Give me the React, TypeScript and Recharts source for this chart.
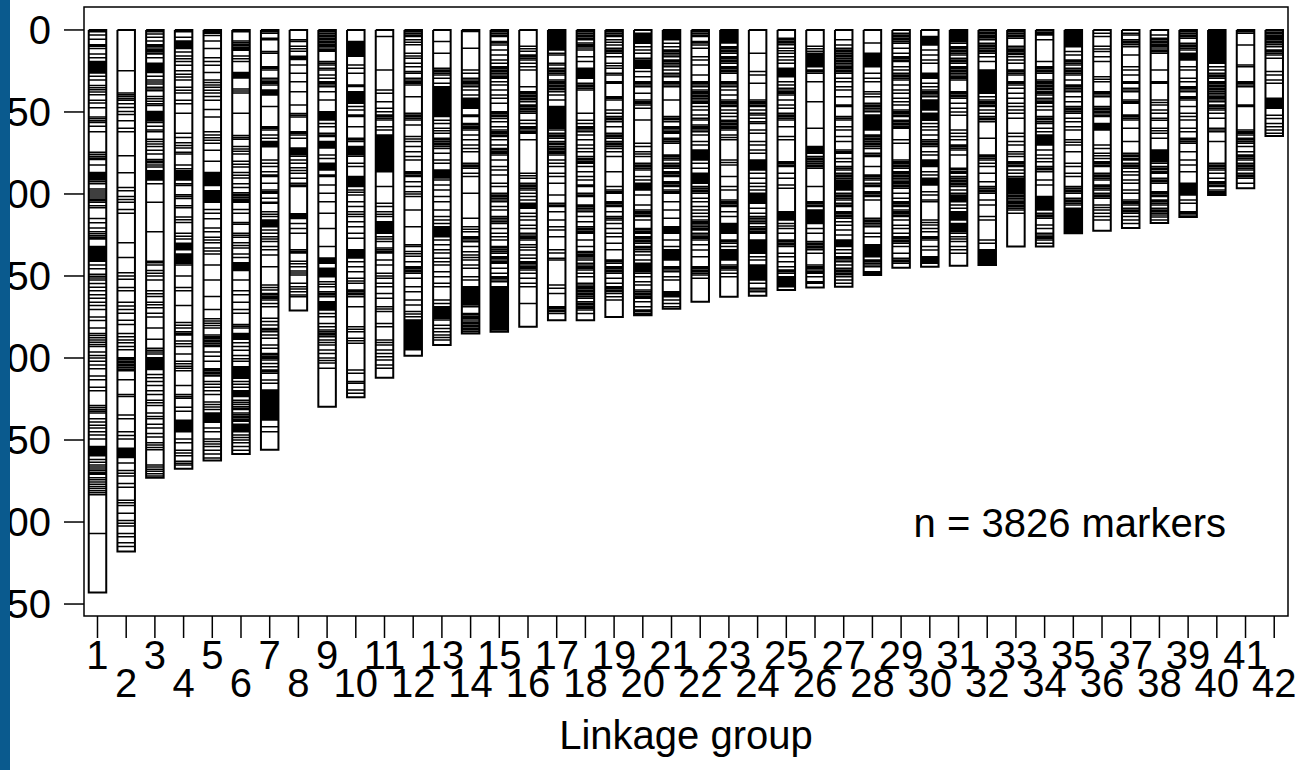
import React from 'react';
import { ComposedChart, Line, XAxis, YAxis, ReferenceArea, Label } from 'recharts';

// ---------- data (positions in cM) ----------
const linkageGroups = [1,2,3,4,5,6,7,8,9,10,11,12,13,14,15,16,17,18,19,20,21,22,23,24,25,26,27,28,29,30,31,32,33,34,35,36,37,38,39,40,41,42];
const groupLabels = ['1','2','3','4','5','6','7','8','9','10','11','12','13','14','15','16','17','18','19','20','21','22','23','24','25','26','27','28','29','30','31','32','33','34','35','36','37','38','39','40','41','42'];
const groupLengths = [343,318,273,267.5,262.5,258.5,256,171,229.7,224,212,198.6,192,185,184,181,177,177,175,174,170,165.7,162.6,162,158.5,157,156.5,149.4,145,144.3,143.7,143.3,132,132,124,122.4,120.7,117.7,114,100.6,96.5,64.6];
const yTicks = [0,50,100,150,200,250,300,350];
const markerCountText = 'n = 3826 markers';
const xAxisTitle = 'Linkage group';

const lg1 = [1.1,3,5.6,9,10,11.3,14.7,17,19.2,19.9,20.6,21.3,22,22.7,23.4,24.1,24.8,25.5,26.2,28.2,30.5,33.9,35.2,36.5,37.8,39.5,42.9,44.5,47.4,53,54.2,55.4,56.4,58.7,62,74.5,75.8,77,78,79,82.4,86.9,87.8,88.7,89.6,90.5,91.5,92.5,93.7,97,98.2,99.4,100.6,101.8,103,104,105,107.2,108.4,115,117.5,120.8,123,124.2,125.4,126.5,127.5,132,132.7,133.4,134.1,134.8,135.5,136.2,136.9,137.6,138.3,139,139.7,140.4,141,143.3,145.6,149,150.2,151.3,152.4,154.6,156.8,159,161.4,163.5,166,168,170.4,175,177.2,181.7,185,186.3,187.6,189,190.4,191.7,193,196.4,198.5,200,202,204.3,206.5,211,213.3,217.8,220,229,230.2,231.4,232.5,233.6,237,239,241,242.7,245,247,249.4,254,254.7,255.4,256.1,256.8,257.5,258.2,258.9,259.6,261.9,263.5,265.2,266.4,267.6,268.8,269.9,270.9,273,274.3,275.6,277,278.3,279.6,281,282.2,283.3,307];
const lg2 = [24.8,38.4,39.5,40.6,41.8,42.9,45,47.3,49.7,51.5,55.3,60,62,76.7,87,96,98,101.6,103.3,105,109.5,111.7,129.8,138.8,148,150,152,157,159,166,168.3,170.5,172.7,177,179.5,185,187,189,190.7,193,195,199.8,200.8,201.8,202.8,203.8,204.8,205.8,206.8,207.7,213.3,222.3,223.5,234.8,237,245,247.2,249.4,255,255.8,256.6,257.4,258.2,259,259.8,260.7,264,268.6,270.3,272,276.5,278.8,286.7,288.3,290,294.6,299,300.8,302.5,307,309,312.6,315];
const lg3 = [1.1,2.5,4.5,6.8,9,10,11,12,13,14,14.7,17,20.3,21,21.7,22.4,23.1,23.8,24.5,25.2,26,28.2,30.5,31.7,33,35,36,37,40.6,42,43.5,45,46,49.7,50.5,51.3,52.1,52.9,53.7,54.5,55.3,56.4,58.7,61,62,66.6,68,69.5,71,73.3,75.6,79,80,81,82.3,83.5,85.8,86.6,87.4,88.2,89,89.8,90.6,91.4,93.7,105,123,141,142,143.3,146.7,148.3,150,152.4,159,160.8,162.5,166,167.5,169.3,172.7,175,181.7,188.5,194,195.2,196.4,197.5,199.8,200.6,201.4,202.2,203,203.8,204.6,205.4,206.2,207,210,212,214.3,216.7,220,222.3,225.7,227.3,229,233.6,235.6,237,240.4,242.7,246,248.2,251.7,253,254.5,256,265.2,266.5,267.8,269,270.5,272];
const lg4 = [1.1,4.5,6.8,7.7,8.6,9.5,10.4,11.3,13.5,15.8,17.5,19.2,21.5,24.8,27,28.7,30.5,35,36.7,38.4,42.9,45,50.8,63,65.5,68.8,70.4,72,74.5,75.6,82.4,84.6,85.8,86.6,87.4,88.2,89,89.8,90.6,91.4,93.7,94.8,100.5,101.6,102.7,107.2,108.4,114,115.7,117.4,124,125.8,127.5,130,130.8,131.6,132.4,133.2,134,136.6,137.4,138.2,139,139.8,140.6,141.4,142.3,143.3,150,157,159,168,178.3,180,181.7,184,185,186,189.6,191.3,193,197.5,202,203.5,205,206.3,207.7,216.7,222.3,223.5,224.6,230,232.5,238,238.8,239.6,240.4,241.2,242,242.8,243.6,244.4,245,249.4,251.7,256.2,257.9,259.6,263,264.1,265.2];
const lg5 = [1.1,2,3.4,6.8,11.3,17,19.2,21.5,26,30.5,32,33.5,35,36.7,38.4,40.6,42.9,48.5,53,62,64,65.7,67.3,69,73.3,80.1,86.9,87.7,88.5,89.3,90.1,90.9,91.7,92.5,93.3,94.1,94.8,98,98.8,99.6,100.4,101.2,102,102.8,103.6,104.3,105,109.5,111.7,115.1,120.8,123,126.4,128.1,129.8,133,134.8,136.6,143.3,152.4,162.5,170.4,176,177.4,178.8,180.2,181.7,186,187,188,189,190,191,192,193,196.4,199,202,206.5,207.5,208.5,209.5,210.5,211,214.4,216,217.8,220,222.3,226.9,228.4,229.9,231.4,233.6,234.3,235,235.7,236.4,237.1,237.8,238.5,239.2,242.7,245,249.4,250.9,252.4,254,256.2,258.5,261];
const lg6 = [1.1,6.8,7.8,8.8,9.8,10.8,11.6,12.4,15.8,17.5,19.2,26,26.8,27.6,28.5,29.3,36,37.2,38.4,50.8,64.3,65.5,66.6,71,72.5,74,75.6,80.1,81.8,83.5,86.9,88.6,90.3,93.7,96,99.3,100.3,101.3,102.3,103.3,104.2,105,109.5,111.7,117.4,118.5,124,125.2,126.4,129.8,131.4,133,136.6,138.8,142,142.8,143.6,144.4,145.2,146,146.7,152.4,159,161.4,166,170.4,172.7,179.5,180.6,181.7,185,185.9,186.8,187.7,188.5,190.7,193,195.2,198.5,200.5,202,205.4,206.1,206.8,207.5,208.2,208.9,209.6,210.3,211,211.7,212.4,214.4,216,217.8,220,220.9,221.8,222.7,223.5,225.7,227,228.2,229.5,230.6,231.4,233.6,234.6,235.6,236.6,237.6,238.5,240.4,241.3,242.2,243.1,244,245,247,248.4,250,251.7,254,256.2];
const lg7 = [1,2,5,6,13.2,14.2,22.4,23.4,24.4,29.5,30.5,31.5,32.5,33.5,36.6,37.4,38.2,39,39.6,46.7,59,60,61,64,66,68,68.8,69.6,70.4,71.2,79.3,81.3,83.3,86.4,88.4,89.4,93.5,97.6,98.6,99.6,102.6,105,105.7,110.8,112.3,113.8,115.9,116.7,117.5,118.3,119.1,120,122,124,126,127.5,129,132,134,137.2,144.3,155.5,157,158.5,160.6,161.6,162.6,163.6,164.6,166.7,168.7,175.8,177.8,179.9,182,183,184,186,188,192.1,194.1,197.2,198.2,199.2,200.2,201.2,203.3,205.3,207.3,208.3,209.3,213.4,215.4,219.5,220.2,220.9,221.6,222.3,223,223.7,224.4,225.1,225.8,226.5,227.2,227.9,228.6,229.3,230,230.7,231.4,232.1,232.8,233.5,234.2,234.9,235.6,236.3,237,237.8,241.9,245];
const lg8 = [6,7,10,11.5,13,16,16.7,17.4,18,21.3,26.4,31.5,37.6,45.7,51,52,53,62,63,64,66,72,72.8,73.6,74.4,75.2,76,77,79.3,81.3,84,85.7,87.4,90.4,93.5,94.5,95.5,112,112.8,113.6,114.4,115,118,121,124,134,135,136,141,142.6,144.3,147,148.2,149.4,154.5,156.5,158,159.6,161.6,162.6];
const lg9 = [1,2,3,4,5,6,7,8,9,10,11,12,13,19.3,20.3,21.3,23.4,24.4,27.4,29.5,31.5,32.5,33.5,34.6,37.6,42.7,49.8,50.6,51.4,52.2,53,54,54.9,57,59,63,64,65,68,68.8,69.6,70.4,71.2,72,76.2,78.3,81.3,82.1,82.9,83.7,84.5,85.4,88.4,89.4,94.5,99.6,104.7,111.8,121,132,139,139.8,140.6,141.4,142.3,145.3,146,146.7,147.4,148.1,148.8,149.5,150.4,153.5,155,156.5,159.6,160.6,161.6,162.6,165.7,166.4,167.1,167.8,168.5,169.2,169.9,170.7,172.8,174.8,178.9,181,183,184,185,186,187,189,190.5,192.1,195.1,197.2,200,201.5,203,206.3];
const lg10 = [7,7.7,8.4,9.1,9.8,10.5,11.2,11.9,12.6,13.3,14,14.7,15.4,16,21.3,23.4,26.4,33.5,34.5,37.6,38.3,39,39.7,40.4,41.1,41.8,42.5,43.2,44,44.7,46.7,48.8,51.8,52.8,59,66,67,68,71,71.7,72.4,73.1,73.8,74.5,75.2,76,77,81.3,83.3,89.4,90.1,90.8,91.5,92.2,92.9,93.6,94.3,95,95.5,97.6,99,100.6,104.7,107.7,110.8,112.3,113.8,116.9,120,124,127,134,134.7,135.4,136.1,136.8,137.5,138.2,139,141.3,144.3,147.4,151.4,153,154.5,158.5,159.5,160.5,161.5,162.6,168.7,181,182.5,184,188,189.5,191,207.3,209.3,214.4,215.4,219.5,221.5];
const lg11 = [4,24.4,36.6,38.6,43.7,47.8,49.8,51.8,52.8,53.8,54.9,59,61,64,64.7,65.4,66.1,66.8,67.5,68.2,68.9,69.6,70.3,71,71.7,72.4,73.1,73.8,74.5,75.2,75.9,76.6,77.3,78,78.7,79.4,80.1,80.8,81.5,82.2,82.9,83.6,84.3,85,85.7,86.4,95.5,105.7,107.7,110.8,112.3,113.8,116.9,117.6,118.3,119,119.7,120.4,121.1,121.8,122.5,123.2,124,126,127.4,129,133,134,135,136,140.2,143.3,148.4,150,151.4,154.5,156.5,160.6,163.6,168.7,170.2,171.7,178.9,181,189,190.5,192,195.1,197.2,199.2,201.2,204.3,206.3];
const lg12 = [1,2,3,4,6,7.5,9,14.2,15.8,17.3,20.3,22.4,25.4,26.4,29.5,30.5,31.5,32.5,33.5,40.7,50.8,51.8,52.8,53.8,54.9,58,65,66.5,68,71,74.2,77.2,79.3,86.4,87.4,88.4,89.4,92.5,95.5,98.6,100,101.6,109.8,120,131,132,135,136.5,138,141.3,144.3,145.3,146.3,147.3,148.4,151.4,156.5,159.6,164.6,167.7,171.7,173.2,174.8,176.8,177.5,178.2,178.9,179.6,180.3,181,181.7,182.4,183.1,183.8,184.5,185.2,185.9,186.6,187.3,188,188.7,189.4,190.1,190.8,191.5,192.2,192.9,193.6,194.3,195];
const lg13 = [7,14.2,23.4,24.4,25.4,26.4,27.4,29.5,32.5,34.6,35.3,36,36.7,37.4,38.1,38.8,39.5,40.2,40.9,41.6,42.3,43,43.7,44.4,45.1,45.8,46.5,47.2,47.9,48.6,49.3,50,50.7,51.4,52.1,52.8,55,57,60,61.5,63,66,67,68,69,70,71,72.2,75.2,79.3,81.3,85.4,86.2,87,87.8,88.6,89.4,90.2,91.5,94.5,97.6,101.6,104.7,109.8,113.8,115.9,118,120,120.7,121.4,122.1,122.8,123.5,124.2,124.9,125.6,126,128,131,134,136,139.2,141.3,143.3,147.4,150.4,154.5,156.5,164.6,166.7,168.7,169.4,170.1,170.8,171.5,172.2,172.9,173.6,174.3,175,175.7,176.8,180,182,184,186,187.5,189];
const lg14 = [0.5,1,11.2,24.4,26.4,29.5,30.5,31.5,32.5,33.5,34.6,36.6,39.6,41.7,42.4,43.1,43.8,44.5,45.2,45.9,46.6,47.2,47.8,51.8,52.8,57,58,59,60,61,64,67,70.1,72.2,74.2,81.3,82.3,83.3,84.3,87.4,89.4,99.6,114.8,120,121.5,123,126,127,128,129.1,132,135.2,137.2,138.7,140.2,143.3,145.3,150.4,152.4,156.5,157.2,157.9,158.6,159.3,160,160.7,161.4,162.1,162.8,163.5,164.2,164.9,165.6,166.3,167,167.7,168.7,172.8,173.8,174.8,175.8,176.8,178,179,180,181,182,183,184];
const lg15 = [1,2,3,4,7,8,9.1,12.2,15.2,18.3,20.3,22.4,23.4,24.4,25.4,26.4,27.4,28.5,29.5,31.5,33.5,36.6,39.6,41.7,44.7,49.8,50.8,51.8,52.8,54,56,59,61,62,63,64,65,67,70.1,72.2,73.2,74.2,75.2,76.2,79.3,83.3,85.4,88.4,93.5,95.5,99.6,100.6,101.6,102.6,103.6,104.7,107.7,109.8,113.8,114.8,115.9,117,118,121,124,126,128,132,133,134,135,136.2,138.2,139.2,140.2,141.3,142.3,145.3,148.4,150.4,151.4,152.4,153.5,156.5,157.2,157.9,158.6,159.3,160,160.7,161.4,162.1,162.8,163.5,164.2,164.9,165.6,166.3,167,167.7,168.4,169.1,169.8,170.5,171.2,171.9,172.6,173.3,174,174.7,175.4,176.1,176.8,177.5,178.2,178.9,179.6,180.3,181,181.7,182.4,183];
const lg16 = [10,11.5,13,15.2,16.2,17.2,18.3,20.3,22.4,24.4,34.6,37.6,38.6,39.6,40.6,41.6,42.6,43.7,45.7,46.7,47.7,48.7,49.7,50.8,55,57,59,60,61,62,63,67,87.4,88.9,90.4,93.5,94.5,95.5,96.5,97.6,99.6,101.6,103.6,105.7,106.3,106.9,107.5,108.1,108.7,111.8,113.8,115.9,119,121,124,125,126,127,128,131,132.5,134.2,137.2,139.2,141.3,142.3,143.3,144.3,145.3,146.3,148.4,151.4,154.5,156.5,166.7];
const lg17 = [1,1.7,2.4,3.1,3.8,4.5,5.2,5.9,6.6,7.3,8,8.7,9.4,10.1,10.8,11.5,12.2,14.2,15.2,20.3,21.3,23.4,24.4,25.4,26.4,27.4,30.5,31.5,32.5,33.5,34.5,35.5,36.5,37.6,39.6,42.7,46.7,47.4,48.1,48.8,49.5,50.2,50.9,51.6,52.3,53,53.7,54.4,55.1,55.8,56.5,57.2,57.9,58.6,59.3,60,61,63,64,65,66,68,69,70,71.2,72.2,73.2,74.2,75.2,76.2,79.3,81.3,83.3,87.4,89.4,93.5,100.6,105.7,106.7,107.7,110.8,115.9,120,122,126,134,136,139.2,140.2,155.5,157.5,160.6,168.7,169.7,170.7,171.7,172.8];
const lg18 = [1,2,3,4,5,6,8,9,10,11,12.2,16.3,19.3,23.4,24.1,24.8,25.5,26.2,26.9,27.6,28.3,29,29.5,32.5,33.5,34.5,35.6,36.6,50.8,55,57,59,60,61,62,64,67,70.1,72.2,74.2,77.2,78.3,79.3,80.3,81.3,83.3,86.4,89.4,91.5,94.5,95.5,99.6,100.6,101.6,106.7,107.7,108.7,109.8,110.8,113.8,116.9,120,121,122,123,124,128,132,135,136,137,138,139,140.2,142.3,143.3,144.3,145.3,146.3,148.4,150.4,154.5,155.5,156.5,157.5,158.5,159.5,160.5,161.5,162.5,163.6,165.7,166.7,167.7,168.7,169.7,170.7,172.8];
const lg19 = [1,2,3,4,6,7.5,9.1,11.2,12.2,13.2,14.2,16.3,20.3,21.8,23.4,26.4,27.4,31.5,32.5,40.7,41.7,42.7,48.8,50.8,52.8,53.8,54.8,55.9,59,63,64,65,66,68,69,70,71,72.2,74.2,77.2,86.4,95.5,97.6,98.6,99.6,104.7,105.7,106.7,107.7,110.8,113.8,114.8,115.9,118,121,124,126,130,134,140.2,141.2,142.3,144.3,145.3,146.3,147.3,148.4,151.4,154.5,156.5,157.5,158.5,159.5,160.6,162.6,164.6];
const lg20 = [2,2.7,3.4,4.1,4.8,5.5,6.2,6.9,7.6,8.1,10.2,12.2,14.2,17.3,18.3,19,19.7,20.4,21.1,21.8,22.4,23.4,25.4,28.5,31.5,32.5,33.5,34.6,38.6,42.7,43.7,44.7,45.7,47.8,54.9,69,71,74.2,75.7,77.2,81.3,82.3,83.3,84.3,85.4,89.4,91.5,93.5,94.2,94.9,95.6,96.3,97,97.6,100.6,106.7,109.8,110.8,111.8,112.8,113.8,115.9,121,122,123,124,126,127,128,129,130,132,133,134,135.2,137.2,140.2,142.3,143,143.7,144.4,145.1,145.8,146.5,147.2,148.4,150.4,153.5,155.5,158.5,159.6,160.6,161.6,162.6,163.6,165.7,168.7,170.7,171.7,172.8,173.5];
const lg21 = [0.5,1.2,1.9,2.6,3.3,4,4.7,5.4,6,8.1,10.2,12.2,13.2,14.2,15.2,16.3,18.3,19.3,20.3,21.3,22.4,24.4,26.4,27.4,28.5,31.5,32.5,33.5,34.6,42.7,52.8,53.8,54.8,55.9,59,60,61,62,63,66,67,68,69,76.2,77.2,78.2,79.3,81.3,82.3,83.3,84.3,86.4,87.4,88.4,89.4,92.5,93.5,94.5,95.5,97.6,98.6,99.6,104.7,109.8,114.8,120,120.7,121.4,122.1,122.8,123.5,124,128,132,134,134.7,135.4,136.1,136.8,137.5,138.2,138.9,139.6,140.2,144.3,145.3,146.3,147.4,150.4,152.4,159.6,160.3,161,161.7,162.3,162.6,164.6,166.7,168.7];
const lg22 = [1,2,3,4,7,8,9.1,11.2,16.3,18.3,21.3,27.4,31.5,32.5,33.5,34.6,36.6,37.6,38.6,39.6,40.6,41.7,42.7,43.7,44.7,46.7,48.8,51.8,53.8,54.9,58,59,60,61,62,64,68,70.1,73.2,73.9,74.6,75.3,76,76.7,77.4,78.1,78.8,79.3,81.3,84.3,87.4,88.1,88.8,89.5,90.2,90.9,91.6,92.3,93,93.5,95.5,96.5,97.5,98.5,99.6,102.6,104.7,107.7,109.8,111.8,113.8,115.9,116.9,117.9,118.9,120,121,122,124,125,126,127,128,131,134.2,138.2,144.3,145.3,146.3,147.3,148.4,149.4,151.4];
const lg23 = [1,1.7,2.4,3.1,3.8,4.5,5.2,5.9,6.6,7.3,8,10.2,11.2,12.2,13.2,14.2,16.3,17.3,18.3,19.3,20.3,22.4,23.4,24.4,25.4,26.4,31.5,32.5,33.5,34.6,36.6,39.6,42.7,43.7,44.7,45.7,46.7,48.8,50.8,52.8,55,56,57,58,59,60,61,64,65.5,67,79.3,80.8,82.3,89.4,95.5,97.6,103.7,104.7,105.7,106.7,107.7,110.8,113.8,118,118.7,119.4,120.1,120.8,121.5,122.2,122.9,123.6,124,128,129,130,132,134,134.7,135.4,136.1,136.8,137.5,138.2,138.9,139.6,140.2,143.3,144.3,145.3,146.3,148.4,150.4];
const lg24 = [14.2,25.4,27.4,32.5,42.7,43.7,44.7,45.7,46.7,48.8,50.8,51.8,53.9,55.9,57,61,63,68,70.1,73.2,75.2,79.3,80,80.7,81.4,82.1,82.8,83.5,84.2,84.9,85.4,87.4,90.4,93.5,95.5,97.6,99.6,100.3,101,101.7,102.4,103.1,103.8,104.5,105.2,105.7,108.7,111.8,113.8,114.8,115.8,116.9,118,120,121,122,123,124,128,128.7,129.4,130.1,130.8,131.5,132.2,132.9,133.6,134.3,135,135.7,136.2,138.2,140.2,143.3,144,144.7,145.4,146.1,146.8,147.5,148.2,148.9,149.6,150.3,151,151.7,152.4,154.5,157.5,158.5,159.6];
const lg25 = [5,6,7,8,9,11.2,12.7,14.2,16.3,18.3,20.3,23.4,24.1,24.8,25.5,26.2,26.9,27.6,28.5,31.5,33.5,35.6,36.6,37.6,38.6,39.6,42.7,45.7,47.8,50.8,51.8,52.8,53.8,54.9,59,65,67,80.3,81.3,82.3,83.3,87.4,90.4,94.5,96.5,110.8,111.5,112.2,112.9,113.6,114.3,115,115.9,118,119.5,121,124,128,129,130,131,132,136.2,138.2,141.3,144.3,146.3,147.3,148.4,150.4,151.1,151.8,152.5,153.2,153.9,154.6,155.3,156,156.5];
const lg26 = [10,11.5,13,14.2,14.9,15.6,16.3,17,17.7,18.4,19.1,19.8,20.5,21.2,21.9,22.4,24.4,25.4,26.4,31.5,43.7,60,71,71.7,72.4,73.1,73.8,74.5,75.2,77.2,78.2,79.2,80.2,81.2,82.3,83.3,84.3,95.5,104.7,105.7,106.7,107.7,109.8,110.5,111.2,111.9,112.6,113.3,114,114.7,115.4,116.1,116.8,117.5,118,121,124,129,130,131,132,133,134,136.2,143.3,144.3,145.3,146.3,147.4,148.4,150.4,153.5,154.5];
const lg27 = [6,9.1,11.2,12.2,13.2,14.2,15.2,16.2,17.3,18.3,19.3,20.3,21.3,22.4,23.4,24.4,25.4,26.4,29.5,31.5,34.6,36.6,40.7,45.7,46.7,52.8,53.8,54.9,59,61,65,68,73.2,74.2,75.2,78.3,80.3,83.3,84.3,85.4,87.4,88.4,89.4,90.4,91.5,92.2,92.9,93.6,94.3,95,95.7,96.4,97.1,97.6,99.6,100.6,101.6,102.6,103.6,105.7,106.7,107.7,110.8,111.8,112.8,113.8,114.8,116.9,119,122,125,128,128.7,129.4,130.1,130.8,131.5,132,134,136.2,138.2,139.2,140.2,141.3,143.3,145.3,146.3,147.3,148.3,149.3,150.4,152.4,154.5];
const lg28 = [8,14.2,14.9,15.6,16.3,17,17.7,18.4,19.1,19.8,20.5,21.2,21.9,22.4,26.4,29.5,31.5,37.6,39.1,40.7,44.7,45.7,46.7,47.7,48.8,49.8,51.8,52.5,53.2,53.9,54.6,55.3,56,56.7,57.4,58.1,58.8,59.5,60.2,61,64,65,66,67,68,69,70,71,72.2,75.2,76.2,77.2,83.3,88.4,89.4,90.4,91.5,93.5,94.5,95.5,98.6,99.6,100.6,101.6,103.7,114.8,115.8,116.8,117.9,118.9,120,124,126,131,131.7,132.4,133.1,133.8,134.5,135.2,135.9,136.6,137.3,138.2,140.2,141.2,142.3,143.3,144.3,147.4,148.4];
const lg29 = [2,3,4,5,6,7,8.1,11.2,14.2,16.3,17.3,18.3,19.3,22.4,24.4,26.4,27.4,28.4,29.5,30.5,33.5,36.6,38.6,41.7,43.7,45.7,48.8,49.8,50.8,51.8,52.8,55,56,57,58,59,60,67,69,79.3,80.3,81.3,82.3,83.3,84.3,86.4,87.4,88.4,89.4,90.4,91.5,92.5,93.5,94.5,95.5,96.5,99.6,102.6,104.7,105.7,106.7,107.7,109.8,110.8,111.8,112.8,113.8,115.9,119,121,124,126,127,128,129,130,132,136.2,139.2,140.2,141.2,142.3];
const lg30 = [4,4.7,5.4,6.1,6.8,7.5,8.2,9.1,12.2,15.2,18.3,20.3,26.4,27,27.6,28.2,28.8,29.5,32.5,34.6,36.6,37.6,38.6,39.6,40.7,42.7,43.4,44.1,44.8,45.5,46.2,46.9,47.6,48.2,48.8,50.8,51.5,52.2,52.9,53.6,54.3,55,57,59,61,64,67,68,69,70,71,74.2,76.2,79.3,80,80.7,81.4,82.1,82.8,83.3,86.4,88.4,90.4,91.1,91.8,92.5,93.2,93.9,94.5,98.6,100.6,103.6,104.7,115.9,117.4,118.9,121,123,126,127,128,132,134.2,138.2,138.9,139.6,140.3,141,141.7,142.3];
const lg31 = [0.5,1.2,1.9,2.6,3.3,4,4.7,5.4,6.1,7,8.1,10.2,11.2,12.2,13.2,14.2,15.2,17.3,18.3,19.3,20.3,22.4,23.4,24.4,25.4,26.4,27.4,28.5,29.5,30.5,37.6,38.6,39.6,40.6,41.7,44.7,47.8,50,52,61,63,65,67,70.1,71.1,72.1,73.2,76.2,84.3,85.3,86.4,87.4,89.4,90.4,91.4,92.4,93.4,94.4,95.5,97.6,99.6,100.6,101.3,102,102.7,103.4,104.1,104.7,106.7,108.7,110.8,111.5,112.2,112.9,113.6,114.3,115,115.9,118,118.7,119.4,120.1,120.8,121.5,122.2,122.9,124,126,127.5,129,132,134,136.2];
const lg32 = [0.5,1.5,2.5,3.5,4.5,5.5,6,8.1,9.1,10.1,11.1,12.2,13.2,14.2,16.3,19.3,24.4,25.1,25.8,26.5,27.2,27.9,28.6,29.3,30,30.7,31.5,32.5,33.2,33.9,34.6,35.3,36,36.7,37.4,38.1,38.6,40.7,42.7,43.7,44.7,45.7,46.7,48.8,50.8,52.8,53.8,54.8,55.9,66,76.2,77.2,78.2,79.3,81.3,83.3,87.4,92.5,95.5,96.5,97.5,98.5,99.6,103.7,106.7,113.8,115.9,128,130,134,134.7,135.4,136.1,136.8,137.5,138.2,138.9,139.6,140.3,141,141.7,142.3];
const lg33 = [1,2,3,4,5,10,11,12,13,14,15,16.3,18.3,20.3,24.4,25.4,26.4,27.4,31.5,32.5,33.5,35.6,38.6,41.7,44.7,46.7,48.8,50.8,53.9,63,65,68,70.1,74.2,75.7,77.2,80.3,81.3,82.3,83.3,85.4,87.4,89.4,90.4,91.1,91.8,92.5,93.2,93.9,94.6,95.3,96,96.7,97.4,98.1,98.8,99.6,100.6,101.6,102.6,103.6,104.7,105.7,106.7,107.7,108.7,109.8,111.8];
const lg34 = [0.5,1.5,2.5,3.1,6,19.3,22.4,23.4,24.4,25.4,26.4,30.5,31.5,32.5,33.5,34.5,35.5,36.5,37.6,38.6,39.6,41.7,42.7,43.7,44.7,46.7,48.8,52.8,53.8,54.8,55.9,57,60,62,64,64.7,65.4,66.1,66.8,67.5,68.2,68.9,69.5,70.1,73.2,76.2,78.3,80.3,83.3,84.3,85.3,86.4,91.5,94.5,101.6,102.3,103,103.7,104.4,105.1,105.8,106.5,107.2,107.9,108.6,109.3,109.8,111.8,112.8,113.8,114.8,118.9,121,124,125,126,127,128,130];
const lg35 = [0.5,1.2,1.9,2.6,3.3,4,4.7,5.4,6.1,6.8,7.5,8.2,8.9,9.6,10.2,13.2,15.2,18.3,19.3,20.3,21.3,23.4,24.4,25.4,26.4,27.4,30.5,33.5,34.5,35.5,36.6,37.6,40.7,43.7,46.7,47.7,48.7,49.7,50.8,53.9,55.9,59,61,67,68.5,70.1,74.2,81.3,83.3,87.4,89.4,95.5,96.5,97.5,98.5,99.6,102.6,103.6,104.6,105.6,106.7,108.7,109.4,110.1,110.8,111.5,112.2,112.9,113.6,114.3,115,115.7,116.4,117.1,117.8,118.5,119.2,119.9,120.6,121.3,122,122.7,123.4];
const lg36 = [2,4,10,11.6,13.2,16.3,19.3,28.5,30,31.5,37.6,38.6,39.6,40.7,46.7,47.7,48.7,49.7,50.7,51.8,52.8,57,57.7,58.4,59.1,59.8,60.4,61,70.1,72.2,75.2,76.7,78.3,80.3,81.3,82.3,83.3,87.4,88.4,89.4,90.4,91.5,94.5,95.5,96.5,97.6,99.6,100.6,101.6,102.6,106.7,108.2,109.8,111.8,113.8,115.9];
const lg37 = [2,3,6,7,8,9,10.2,15.2,22.4,24.4,27.4,31.5,32.5,35.6,36.6,37.6,42.7,43.7,44.7,51.8,52.8,53.8,54.9,60,68,75.2,76.2,77.2,78.3,79.3,81.3,82.3,83.3,84.3,86.4,88.4,91.5,93.5,97.6,99.6,103.7,104.7,105.7,106.7,108.7,109.7,110.7,111.8,113.8,115.9,118];
const lg38 = [3,5,6,7,8,9,10,11,12.2,13.2,14.2,24.4,31.5,32.5,42.7,44.2,45.7,48.8,50.8,53.9,55,60,61.5,63,66,73.2,73.9,74.6,75.3,76,76.7,77.4,78.1,78.8,79.5,80.2,81.3,83.3,84.3,85.3,86.4,87.4,90.4,91.4,92.4,93.5,98.6,99.6,100.6,101.6,103.6,104.6,105.6,106.7,108.7,109.7,110.7,111.7,112.8,114,115.9];
const lg39 = [1,2,3,4,5.1,8.1,9.1,10.1,11.1,12.2,14.2,14.9,15.6,16.3,17,17.7,18.3,22.4,24.4,29.5,31.5,34.6,35.6,36.6,37.6,40.7,41.7,42.7,46.7,50.8,52.8,54.9,60,62,66,67,68,69,74.2,79.3,82.3,86.4,93.5,94.2,94.9,95.6,96.3,97,97.7,98.4,99.1,99.8,100.6,103.7,105.7,110.8,111.8,112.8];
const lg40 = [0.5,1.2,1.9,2.6,3.3,4,4.7,5.4,6.1,6.8,7.5,8.2,8.9,9.6,10.3,11,11.7,12.4,13.1,13.8,14.5,15.2,15.9,16.6,17.3,18,18.7,19.4,20.3,22.4,24.4,26.4,27.4,28.4,29.5,31.5,32.5,33.5,34.5,35.5,36.5,37.5,38.6,39.6,40.7,41.7,42.7,43.7,45.7,46.7,47.7,48.8,50.8,53.8,60,61,62,68,81.3,82.3,83.3,84.3,85.4,87.4,90.4,92.5,93.5,94.5,95.5,97.6,98.6,99.6];
const lg41 = [1,2,9.1,21.3,22.4,31.5,32.5,33.5,34.6,45.7,46.7,61,62,63,64,66,67,68,69,71.1,74.2,76.2,77.2,78.2,79.3,81.3,82.3,83.3,84.3,85.4,87.4,88.4,89.4,90.4,93.5];
const lg42 = [0.5,1.5,2.5,3.5,4.5,5.1,6,7,8,9,10.2,12.2,13.2,14.2,15.2,17.3,25.4,27.4,30.5,32.5,41.7,42.4,43.1,43.8,44.5,45.2,45.9,46.6,47.2,47.8,52,54,57,59,61,63];

const markerPositions = [lg1,lg2,lg3,lg4,lg5,lg6,lg7,lg8,lg9,lg10,lg11,lg12,lg13,lg14,lg15,lg16,lg17,lg18,lg19,lg20,lg21,lg22,lg23,lg24,lg25,lg26,lg27,lg28,lg29,lg30,lg31,lg32,lg33,lg34,lg35,lg36,lg37,lg38,lg39,lg40,lg41,lg42];

// ---------- layout / style ----------
const FONT = '"Liberation Sans", Arial, Helvetica, sans-serif';
const HALF = 0.305; // half width of a linkage group bar, in x units
const X_DOMAIN: [number, number] = [0.53, 42.48];
const Y_DOMAIN: [number, number] = [-14, 357.3];

type Pt = { x: number; y: number | null };

const outlineData: Pt[] = [];
linkageGroups.forEach((g, i) => {
  const len = groupLengths[i];
  outlineData.push(
    { x: g - HALF, y: 0 },
    { x: g + HALF, y: 0 },
    { x: g + HALF, y: len },
    { x: g - HALF, y: len },
    { x: g - HALF, y: 0 },
    { x: g, y: null },
  );
});

const markerData: Pt[] = [];
linkageGroups.forEach((g, i) => {
  markerPositions[i].forEach((p) => {
    markerData.push({ x: g - HALF, y: p }, { x: g + HALF, y: p }, { x: g, y: null });
  });
});

const XTick = (props: any) => {
  const { x, y, payload } = props;
  const v = payload.value as number;
  const idx = linkageGroups.indexOf(v);
  const lower = v % 2 === 0;
  return (
    <text x={x} y={y + (lower ? 59 : 31)} textAnchor="middle" fontSize={40} fontFamily={FONT} fill="#000">
      {groupLabels[idx]}
    </text>
  );
};

export default function App() {
  return (
    <div style={{ position: 'absolute', left: 0, top: 0, width: 1300, height: 770, background: '#fff', overflow: 'hidden' }}>
      <ComposedChart width={1300} height={770} margin={{ top: 7, right: 12, bottom: 0, left: 0 }}>
        <XAxis
          type="number"
          dataKey="x"
          domain={X_DOMAIN}
          allowDataOverflow
          ticks={linkageGroups}
          interval={0}
          height={154}
          tickSize={22}
          tickMargin={0}
          axisLine={false}
          tickLine={{ stroke: '#000', strokeWidth: 1.5 }}
          tick={<XTick />}
        >
          <Label value={xAxisTitle} position="insideBottom" offset={21} fontSize={40} fill="#000" fontFamily={FONT} />
        </XAxis>
        <YAxis
          type="number"
          dataKey="y"
          domain={Y_DOMAIN}
          allowDataOverflow
          reversed
          ticks={yTicks}
          interval={0}
          width={84}
          tickSize={20}
          tickMargin={13}
          axisLine={false}
          tickLine={{ stroke: '#000', strokeWidth: 1.5 }}
          tick={{ fontSize: 40, fill: '#000', fontFamily: FONT }}
        />
        <ReferenceArea
          x1={X_DOMAIN[0]}
          x2={X_DOMAIN[1]}
          y1={Y_DOMAIN[0]}
          y2={Y_DOMAIN[1]}
          fill="none"
          stroke="#000"
          strokeWidth={1.5}
          ifOverflow="visible"
        />
        <Line
          data={markerData}
          dataKey="y"
          stroke="#000"
          strokeWidth={1.5}
          dot={false}
          activeDot={false}
          connectNulls={false}
          isAnimationActive={false}
          legendType="none"
        />
        <Line
          data={outlineData}
          dataKey="y"
          stroke="#000"
          strokeWidth={2}
          dot={false}
          activeDot={false}
          connectNulls={false}
          isAnimationActive={false}
          legendType="none"
        />
      </ComposedChart>
      <svg width={1300} height={770} style={{ position: 'absolute', left: 0, top: 0, pointerEvents: 'none' }}>
        <text x={1226} y={537} textAnchor="end" fontSize={40} fontFamily={FONT} fill="#000">
          {markerCountText}
        </text>
      </svg>
      <div style={{ position: 'absolute', left: 0, top: 0, width: 10, height: 770, background: '#0a5a8e' }} />
    </div>
  );
}
